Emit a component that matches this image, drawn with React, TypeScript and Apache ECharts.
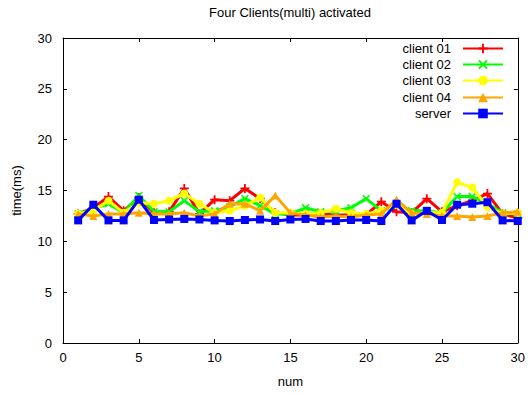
import React, { useEffect, useRef } from "react";
import * as echarts from "echarts";

const xs: number[] = Array.from({ length: 30 }, (_, i) => i + 1);

const client01 = [12.7, 13.3, 14.4, 13.0, 14.3, 12.8, 12.9, 15.2, 12.7, 14.1, 14.0, 15.2, 14.2, 12.8, 12.6, 12.6, 12.7, 12.6, 12.6, 12.6, 13.9, 12.9, 12.8, 14.2, 12.9, 13.5, 14.0, 14.7, 12.7, 12.3];
const client02 = [12.7, 13.2, 13.7, 12.8, 14.5, 12.9, 12.9, 14.0, 12.9, 13.0, 13.4, 14.2, 13.5, 12.7, 12.7, 13.3, 12.9, 13.0, 13.3, 14.2, 13.0, 13.5, 13.0, 13.0, 12.8, 14.4, 14.4, 13.7, 12.8, 12.7];
const client03 = [12.7, 13.0, 14.0, 12.8, 13.8, 13.7, 14.0, 14.7, 13.7, 12.8, 13.0, 13.5, 14.3, 12.8, 12.8, 12.7, 12.8, 13.2, 12.8, 12.7, 13.0, 13.6, 12.7, 12.8, 12.8, 15.8, 15.3, 13.4, 12.7, 12.8];
const client04 = [12.7, 12.5, 12.7, 12.7, 12.8, 12.7, 12.7, 12.8, 12.5, 12.7, 13.7, 13.7, 13.0, 14.5, 12.8, 12.6, 12.4, 12.5, 12.4, 12.6, 12.7, 14.1, 12.8, 12.7, 12.5, 12.5, 12.4, 12.5, 12.8, 12.9];
const server = [12.06, 13.6, 12.06, 12.06, 14.1, 12.1, 12.15, 12.2, 12.15, 12.06, 12.0, 12.1, 12.15, 12.0, 12.15, 12.2, 12.0, 12.0, 12.1, 12.1, 12.0, 13.7, 12.06, 13.0, 12.1, 13.6, 13.7, 13.85, 12.06, 12.0];

const seriesNames = ["client 01", "client 02", "client 03", "client 04", "server"];
const seriesData = [client01, client02, client03, client04, server];
const seriesColors = ["#ff0000", "#00ff00", "#ffff00", "#ffa500", "#0000ff"];
const seriesSymbols = [
  "path://M4,0H6V4H10V6H6V10H4V6H0V4H4Z",
  "path://M1.4,0L5,3.6L8.6,0L10,1.4L6.4,5L10,8.6L8.6,10L5,6.4L1.4,10L0,8.6L3.6,5L0,1.4Z",
  "circle",
  "triangle",
  "rect",
];
const seriesSymbolSizes = [9, 8, 8, 8, 8];

const FONT = "Liberation Sans, Arial, sans-serif";
const FS = 13;

export default function App() {
  const ref = useRef<HTMLDivElement>(null);
  useEffect(() => {
    if (!ref.current) return;
    const chart = echarts.init(ref.current, undefined, { renderer: "svg" });
    const axisLine = { show: true, onZero: false, lineStyle: { color: "#000", width: 1 } };
    const tickStyle = { show: true, inside: true, length: 4, lineStyle: { color: "#000" } };
    const legendTops = [42, 58, 74, 91, 107];
    chart.setOption({
      animation: false,
      backgroundColor: "#fff",
      title: {
        text: "Four Clients(multi) activated",
        left: 290,
        textAlign: "center",
        top: 6,
        padding: 0,
        textStyle: { fontFamily: FONT, fontSize: FS, fontWeight: "normal", color: "#000" },
      },
      grid: { left: 63, right: 9, top: 38, bottom: 51, containLabel: false },
      legend: seriesNames.map((n, i) => ({
        data: [n],
        right: 24,
        top: legendTops[i],
        padding: 0,
        align: "right",
        itemWidth: 40,
        itemHeight: 12,
        textStyle: { fontFamily: FONT, fontSize: FS, color: "#000", padding: [0, 7, 0, 0] },
        selectedMode: false,
      })),
      xAxis: [
        {
          type: "value",
          min: 0,
          max: 30,
          interval: 5,
          position: "bottom",
          name: "num",
          nameLocation: "middle",
          nameGap: 32,
          nameTextStyle: { fontFamily: FONT, fontSize: FS, color: "#000" },
          axisLine,
          axisTick: tickStyle,
          splitLine: { show: false },
          axisLabel: { fontFamily: FONT, fontSize: FS, color: "#000", margin: 8 },
        },
        {
          type: "value",
          min: 0,
          max: 30,
          interval: 5,
          position: "top",
          axisLine,
          axisTick: tickStyle,
          splitLine: { show: false },
          axisLabel: { show: false },
        },
      ],
      yAxis: [
        {
          type: "value",
          min: 0,
          max: 30,
          interval: 5,
          position: "left",
          name: "time(ms)",
          nameLocation: "middle",
          nameGap: 40,
          nameRotate: 90,
          nameTextStyle: { fontFamily: FONT, fontSize: FS, color: "#000" },
          axisLine,
          axisTick: tickStyle,
          splitLine: { show: false },
          axisLabel: { fontFamily: FONT, fontSize: FS, color: "#000", margin: 11 },
        },
        {
          type: "value",
          min: 0,
          max: 30,
          interval: 5,
          position: "right",
          axisLine,
          axisTick: tickStyle,
          splitLine: { show: false },
          axisLabel: { show: false },
        },
      ],
      series: seriesNames.map((n, i) => ({
        name: n,
        type: "line",
        xAxisIndex: 0,
        yAxisIndex: 0,
        data: xs.map((x, j) => [x, seriesData[i][j]]),
        symbol: seriesSymbols[i],
        symbolSize: seriesSymbolSizes[i],
        showSymbol: true,
        color: seriesColors[i],
        lineStyle: { color: seriesColors[i], width: 3 },
        itemStyle: { color: seriesColors[i], borderWidth: 0 },
        z: 2 + i,
      })),
    });
    return () => chart.dispose();
  }, []);
  return (
    <div
      ref={ref}
      style={{ position: "fixed", left: 0, top: 0, width: 528, height: 394 }}
    />
  );
}
